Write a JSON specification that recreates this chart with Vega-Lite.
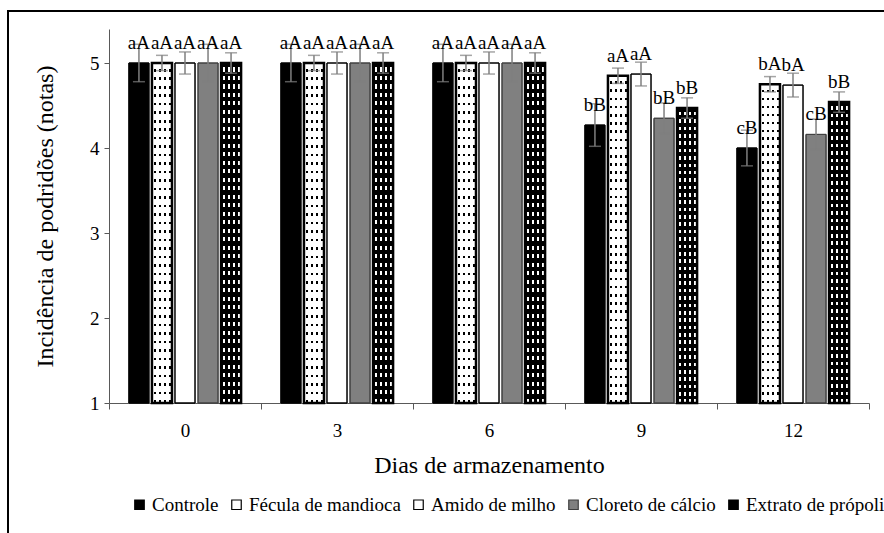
{
  "$schema": "https://vega.github.io/schema/vega-lite/v6.json",
  "width": 880,
  "height": 526,
  "autosize": "none",
  "padding": {"left": 8, "top": 11, "right": 0, "bottom": 0},
  "background": "white",
  "data": {
    "values": [
      {"dia": "0", "trat": "Controle", "media": 5, "ep": 0.22, "letra": "aA"},
      {"dia": "0", "trat": "Fécula de mandioca", "media": 5, "ep": 0.09, "letra": "aA"},
      {"dia": "0", "trat": "Amido de milho", "media": 5, "ep": 0.13, "letra": "aA"},
      {"dia": "0", "trat": "Cloreto de cálcio", "media": 5, "ep": 0.22, "letra": "aA"},
      {"dia": "0", "trat": "Extrato de própolis", "media": 5, "ep": 0.12, "letra": "aA"},
      {"dia": "3", "trat": "Controle", "media": 5, "ep": 0.22, "letra": "aA"},
      {"dia": "3", "trat": "Fécula de mandioca", "media": 5, "ep": 0.09, "letra": "aA"},
      {"dia": "3", "trat": "Amido de milho", "media": 5, "ep": 0.13, "letra": "aA"},
      {"dia": "3", "trat": "Cloreto de cálcio", "media": 5, "ep": 0.22, "letra": "aA"},
      {"dia": "3", "trat": "Extrato de própolis", "media": 5, "ep": 0.12, "letra": "aA"},
      {"dia": "6", "trat": "Controle", "media": 5, "ep": 0.22, "letra": "aA"},
      {"dia": "6", "trat": "Fécula de mandioca", "media": 5, "ep": 0.09, "letra": "aA"},
      {"dia": "6", "trat": "Amido de milho", "media": 5, "ep": 0.13, "letra": "aA"},
      {"dia": "6", "trat": "Cloreto de cálcio", "media": 5, "ep": 0.22, "letra": "aA"},
      {"dia": "6", "trat": "Extrato de própolis", "media": 5, "ep": 0.12, "letra": "aA"},
      {"dia": "9", "trat": "Controle", "media": 4.27, "ep": 0.25, "letra": "bB"},
      {"dia": "9", "trat": "Fécula de mandioca", "media": 4.85, "ep": 0.09, "letra": "aA"},
      {"dia": "9", "trat": "Amido de milho", "media": 4.87, "ep": 0.14, "letra": "aA"},
      {"dia": "9", "trat": "Cloreto de cálcio", "media": 4.35, "ep": 0.18, "letra": "bB"},
      {"dia": "9", "trat": "Extrato de própolis", "media": 4.47, "ep": 0.12, "letra": "bB"},
      {"dia": "12", "trat": "Controle", "media": 4.0, "ep": 0.21, "letra": "cB"},
      {"dia": "12", "trat": "Fécula de mandioca", "media": 4.75, "ep": 0.09, "letra": "bA"},
      {"dia": "12", "trat": "Amido de milho", "media": 4.74, "ep": 0.14, "letra": "bA"},
      {"dia": "12", "trat": "Cloreto de cálcio", "media": 4.16, "ep": 0.18, "letra": "cB"},
      {"dia": "12", "trat": "Extrato de própolis", "media": 4.54, "ep": 0.12, "letra": "bB"}
    ]
  },
  "encoding": {
    "x": {
      "field": "dia",
      "type": "nominal",
      "sort": ["0", "3", "6", "9", "12"],
      "scale": {"range": [101, 861], "paddingInner": 0, "paddingOuter": 0},
      "title": "Dias de armazenamento",
      "axis": {
        "orient": "bottom",
        "offset": -134,
        "labelAngle": 0,
        "tickBand": "extent",
        "tickSize": 6,
        "labelPadding": 12,
        "titleY": 69,
        "titleBaseline": "alphabetic",
        "labelFont": "Liberation Serif",
        "titleFont": "Liberation Serif"
      }
    },
    "xOffset": {
      "field": "trat",
      "type": "nominal",
      "sort": ["Controle", "Fécula de mandioca", "Amido de milho", "Cloreto de cálcio", "Extrato de própolis"],
      "scale": {"paddingInner": 0.13, "paddingOuter": 0.865}
    },
    "y": {
      "field": "media",
      "type": "quantitative",
      "scale": {"domain": [1, 5.4], "range": [392, 18], "nice": false, "zero": false},
      "title": "Incidência de podridões (notas)",
      "axis": {
        "values": [1, 2, 3, 4, 5],
        "orient": "left",
        "offset": -101,
        "tickSize": 5,
        "labelPadding": 5,
        "titleX": -57,
        "titleY": 205,
        "titleAngle": -90,
        "titleBaseline": "alphabetic",
        "labelFont": "Liberation Serif",
        "titleFont": "Liberation Serif"
      }
    }
  },
  "layer": [
    {
      "mark": {"type": "bar", "strokeWidth": 1},
      "encoding": {
        "y2": {"datum": 1},
        "fill": {
          "field": "trat",
          "type": "nominal",
          "sort": ["Controle", "Fécula de mandioca", "Amido de milho", "Cloreto de cálcio", "Extrato de própolis"],
          "scale": {
            "domain": ["Controle", "Fécula de mandioca", "Amido de milho", "Cloreto de cálcio", "Extrato de própolis"],
            "range": ["#000000", "#ffffff", "#ffffff", "#808080", "#000000"]
          },
          "legend": {
            "orient": "none",
            "legendX": 122,
            "legendY": 484,
            "direction": "horizontal",
            "columns": 5,
            "title": null
          }
        },
        "stroke": {
          "field": "trat",
          "type": "nominal",
          "sort": ["Controle", "Fécula de mandioca", "Amido de milho", "Cloreto de cálcio", "Extrato de própolis"],
          "scale": {
            "domain": ["Controle", "Fécula de mandioca", "Amido de milho", "Cloreto de cálcio", "Extrato de própolis"],
            "range": ["#000000", "#000000", "#000000", "#404040", "#000000"]
          },
          "legend": {
            "orient": "none",
            "legendX": 122,
            "legendY": 484,
            "direction": "horizontal",
            "columns": 5,
            "title": null
          }
        }
      }
    },
    {
      "mark": {"type": "bar", "strokeWidth": 0},
      "encoding": {
        "y2": {"datum": 1},
        "fill": {
          "condition": [
            {"test": "datum.trat === 'Fécula de mandioca'", "value": {"gradient": "linear", "x1": 0, "y1": 0, "x2": 1, "y2": 0, "stops": [
              {"offset": 0, "color": "rgba(0,0,0,0)"}, {"offset": 0.12, "color": "rgba(0,0,0,0)"}, {"offset": 0.12, "color": "rgba(0,0,0,1)"}, {"offset": 0.2, "color": "rgba(0,0,0,1)"}, {"offset": 0.2, "color": "rgba(0,0,0,0)"},
              {"offset": 0.37, "color": "rgba(0,0,0,0)"}, {"offset": 0.37, "color": "rgba(0,0,0,1)"}, {"offset": 0.45, "color": "rgba(0,0,0,1)"}, {"offset": 0.45, "color": "rgba(0,0,0,0)"},
              {"offset": 0.62, "color": "rgba(0,0,0,0)"}, {"offset": 0.62, "color": "rgba(0,0,0,1)"}, {"offset": 0.7, "color": "rgba(0,0,0,1)"}, {"offset": 0.7, "color": "rgba(0,0,0,0)"},
              {"offset": 0.87, "color": "rgba(0,0,0,0)"}, {"offset": 0.87, "color": "rgba(0,0,0,1)"}, {"offset": 0.95, "color": "rgba(0,0,0,1)"}, {"offset": 0.95, "color": "rgba(0,0,0,0)"}, {"offset": 1, "color": "rgba(0,0,0,0)"}
            ]}},
            {"test": "datum.trat === 'Extrato de própolis'", "value": {"gradient": "linear", "x1": 0, "y1": 0, "x2": 1, "y2": 0, "stops": [
              {"offset": 0, "color": "rgba(255,255,255,0)"}, {"offset": 0.1, "color": "rgba(255,255,255,0)"}, {"offset": 0.1, "color": "rgba(255,255,255,1)"}, {"offset": 0.22, "color": "rgba(255,255,255,1)"}, {"offset": 0.22, "color": "rgba(255,255,255,0)"},
              {"offset": 0.35, "color": "rgba(255,255,255,0)"}, {"offset": 0.35, "color": "rgba(255,255,255,1)"}, {"offset": 0.47, "color": "rgba(255,255,255,1)"}, {"offset": 0.47, "color": "rgba(255,255,255,0)"},
              {"offset": 0.6, "color": "rgba(255,255,255,0)"}, {"offset": 0.6, "color": "rgba(255,255,255,1)"}, {"offset": 0.72, "color": "rgba(255,255,255,1)"}, {"offset": 0.72, "color": "rgba(255,255,255,0)"},
              {"offset": 0.85, "color": "rgba(255,255,255,0)"}, {"offset": 0.85, "color": "rgba(255,255,255,1)"}, {"offset": 0.97, "color": "rgba(255,255,255,1)"}, {"offset": 0.97, "color": "rgba(255,255,255,0)"}, {"offset": 1, "color": "rgba(255,255,255,0)"}
            ]}}
          ],
          "value": "transparent"
        }
      }
    },
    {
      "mark": {"type": "bar"},
      "encoding": {
        "y2": {"datum": 1},
        "fill": {
          "condition": [
            {"test": "datum.trat === 'Fécula de mandioca'", "value": {"gradient": "linear", "x1": 0, "y1": 0, "x2": 0, "y2": 1, "stops": [
              {"offset": 0, "color": "rgba(255,255,255,1)"}, {"offset": 0.017, "color": "rgba(255,255,255,1)"}, {"offset": 0.017, "color": "rgba(255,255,255,0)"}, {"offset": 0.025, "color": "rgba(255,255,255,0)"},
              {"offset": 0.025, "color": "rgba(255,255,255,1)"}, {"offset": 0.042, "color": "rgba(255,255,255,1)"}, {"offset": 0.042, "color": "rgba(255,255,255,0)"}, {"offset": 0.05, "color": "rgba(255,255,255,0)"},
              {"offset": 0.05, "color": "rgba(255,255,255,1)"}, {"offset": 0.067, "color": "rgba(255,255,255,1)"}, {"offset": 0.067, "color": "rgba(255,255,255,0)"}, {"offset": 0.075, "color": "rgba(255,255,255,0)"},
              {"offset": 0.075, "color": "rgba(255,255,255,1)"}, {"offset": 0.092, "color": "rgba(255,255,255,1)"}, {"offset": 0.092, "color": "rgba(255,255,255,0)"}, {"offset": 0.1, "color": "rgba(255,255,255,0)"},
              {"offset": 0.1, "color": "rgba(255,255,255,1)"}, {"offset": 0.117, "color": "rgba(255,255,255,1)"}, {"offset": 0.117, "color": "rgba(255,255,255,0)"}, {"offset": 0.125, "color": "rgba(255,255,255,0)"},
              {"offset": 0.125, "color": "rgba(255,255,255,1)"}, {"offset": 0.142, "color": "rgba(255,255,255,1)"}, {"offset": 0.142, "color": "rgba(255,255,255,0)"}, {"offset": 0.15, "color": "rgba(255,255,255,0)"},
              {"offset": 0.15, "color": "rgba(255,255,255,1)"}, {"offset": 0.167, "color": "rgba(255,255,255,1)"}, {"offset": 0.167, "color": "rgba(255,255,255,0)"}, {"offset": 0.175, "color": "rgba(255,255,255,0)"},
              {"offset": 0.175, "color": "rgba(255,255,255,1)"}, {"offset": 0.192, "color": "rgba(255,255,255,1)"}, {"offset": 0.192, "color": "rgba(255,255,255,0)"}, {"offset": 0.2, "color": "rgba(255,255,255,0)"},
              {"offset": 0.2, "color": "rgba(255,255,255,1)"}, {"offset": 0.217, "color": "rgba(255,255,255,1)"}, {"offset": 0.217, "color": "rgba(255,255,255,0)"}, {"offset": 0.225, "color": "rgba(255,255,255,0)"},
              {"offset": 0.225, "color": "rgba(255,255,255,1)"}, {"offset": 0.242, "color": "rgba(255,255,255,1)"}, {"offset": 0.242, "color": "rgba(255,255,255,0)"}, {"offset": 0.25, "color": "rgba(255,255,255,0)"},
              {"offset": 0.25, "color": "rgba(255,255,255,1)"}, {"offset": 0.267, "color": "rgba(255,255,255,1)"}, {"offset": 0.267, "color": "rgba(255,255,255,0)"}, {"offset": 0.275, "color": "rgba(255,255,255,0)"},
              {"offset": 0.275, "color": "rgba(255,255,255,1)"}, {"offset": 0.292, "color": "rgba(255,255,255,1)"}, {"offset": 0.292, "color": "rgba(255,255,255,0)"}, {"offset": 0.3, "color": "rgba(255,255,255,0)"},
              {"offset": 0.3, "color": "rgba(255,255,255,1)"}, {"offset": 0.317, "color": "rgba(255,255,255,1)"}, {"offset": 0.317, "color": "rgba(255,255,255,0)"}, {"offset": 0.325, "color": "rgba(255,255,255,0)"},
              {"offset": 0.325, "color": "rgba(255,255,255,1)"}, {"offset": 0.342, "color": "rgba(255,255,255,1)"}, {"offset": 0.342, "color": "rgba(255,255,255,0)"}, {"offset": 0.35, "color": "rgba(255,255,255,0)"},
              {"offset": 0.35, "color": "rgba(255,255,255,1)"}, {"offset": 0.367, "color": "rgba(255,255,255,1)"}, {"offset": 0.367, "color": "rgba(255,255,255,0)"}, {"offset": 0.375, "color": "rgba(255,255,255,0)"},
              {"offset": 0.375, "color": "rgba(255,255,255,1)"}, {"offset": 0.392, "color": "rgba(255,255,255,1)"}, {"offset": 0.392, "color": "rgba(255,255,255,0)"}, {"offset": 0.4, "color": "rgba(255,255,255,0)"},
              {"offset": 0.4, "color": "rgba(255,255,255,1)"}, {"offset": 0.417, "color": "rgba(255,255,255,1)"}, {"offset": 0.417, "color": "rgba(255,255,255,0)"}, {"offset": 0.425, "color": "rgba(255,255,255,0)"},
              {"offset": 0.425, "color": "rgba(255,255,255,1)"}, {"offset": 0.442, "color": "rgba(255,255,255,1)"}, {"offset": 0.442, "color": "rgba(255,255,255,0)"}, {"offset": 0.45, "color": "rgba(255,255,255,0)"},
              {"offset": 0.45, "color": "rgba(255,255,255,1)"}, {"offset": 0.467, "color": "rgba(255,255,255,1)"}, {"offset": 0.467, "color": "rgba(255,255,255,0)"}, {"offset": 0.475, "color": "rgba(255,255,255,0)"},
              {"offset": 0.475, "color": "rgba(255,255,255,1)"}, {"offset": 0.492, "color": "rgba(255,255,255,1)"}, {"offset": 0.492, "color": "rgba(255,255,255,0)"}, {"offset": 0.5, "color": "rgba(255,255,255,0)"},
              {"offset": 0.5, "color": "rgba(255,255,255,1)"}, {"offset": 0.517, "color": "rgba(255,255,255,1)"}, {"offset": 0.517, "color": "rgba(255,255,255,0)"}, {"offset": 0.525, "color": "rgba(255,255,255,0)"},
              {"offset": 0.525, "color": "rgba(255,255,255,1)"}, {"offset": 0.542, "color": "rgba(255,255,255,1)"}, {"offset": 0.542, "color": "rgba(255,255,255,0)"}, {"offset": 0.55, "color": "rgba(255,255,255,0)"},
              {"offset": 0.55, "color": "rgba(255,255,255,1)"}, {"offset": 0.567, "color": "rgba(255,255,255,1)"}, {"offset": 0.567, "color": "rgba(255,255,255,0)"}, {"offset": 0.575, "color": "rgba(255,255,255,0)"},
              {"offset": 0.575, "color": "rgba(255,255,255,1)"}, {"offset": 0.592, "color": "rgba(255,255,255,1)"}, {"offset": 0.592, "color": "rgba(255,255,255,0)"}, {"offset": 0.6, "color": "rgba(255,255,255,0)"},
              {"offset": 0.6, "color": "rgba(255,255,255,1)"}, {"offset": 0.617, "color": "rgba(255,255,255,1)"}, {"offset": 0.617, "color": "rgba(255,255,255,0)"}, {"offset": 0.625, "color": "rgba(255,255,255,0)"},
              {"offset": 0.625, "color": "rgba(255,255,255,1)"}, {"offset": 0.642, "color": "rgba(255,255,255,1)"}, {"offset": 0.642, "color": "rgba(255,255,255,0)"}, {"offset": 0.65, "color": "rgba(255,255,255,0)"},
              {"offset": 0.65, "color": "rgba(255,255,255,1)"}, {"offset": 0.667, "color": "rgba(255,255,255,1)"}, {"offset": 0.667, "color": "rgba(255,255,255,0)"}, {"offset": 0.675, "color": "rgba(255,255,255,0)"},
              {"offset": 0.675, "color": "rgba(255,255,255,1)"}, {"offset": 0.692, "color": "rgba(255,255,255,1)"}, {"offset": 0.692, "color": "rgba(255,255,255,0)"}, {"offset": 0.7, "color": "rgba(255,255,255,0)"},
              {"offset": 0.7, "color": "rgba(255,255,255,1)"}, {"offset": 0.717, "color": "rgba(255,255,255,1)"}, {"offset": 0.717, "color": "rgba(255,255,255,0)"}, {"offset": 0.725, "color": "rgba(255,255,255,0)"},
              {"offset": 0.725, "color": "rgba(255,255,255,1)"}, {"offset": 0.742, "color": "rgba(255,255,255,1)"}, {"offset": 0.742, "color": "rgba(255,255,255,0)"}, {"offset": 0.75, "color": "rgba(255,255,255,0)"},
              {"offset": 0.75, "color": "rgba(255,255,255,1)"}, {"offset": 0.767, "color": "rgba(255,255,255,1)"}, {"offset": 0.767, "color": "rgba(255,255,255,0)"}, {"offset": 0.775, "color": "rgba(255,255,255,0)"},
              {"offset": 0.775, "color": "rgba(255,255,255,1)"}, {"offset": 0.792, "color": "rgba(255,255,255,1)"}, {"offset": 0.792, "color": "rgba(255,255,255,0)"}, {"offset": 0.8, "color": "rgba(255,255,255,0)"},
              {"offset": 0.8, "color": "rgba(255,255,255,1)"}, {"offset": 0.817, "color": "rgba(255,255,255,1)"}, {"offset": 0.817, "color": "rgba(255,255,255,0)"}, {"offset": 0.825, "color": "rgba(255,255,255,0)"},
              {"offset": 0.825, "color": "rgba(255,255,255,1)"}, {"offset": 0.842, "color": "rgba(255,255,255,1)"}, {"offset": 0.842, "color": "rgba(255,255,255,0)"}, {"offset": 0.85, "color": "rgba(255,255,255,0)"},
              {"offset": 0.85, "color": "rgba(255,255,255,1)"}, {"offset": 0.867, "color": "rgba(255,255,255,1)"}, {"offset": 0.867, "color": "rgba(255,255,255,0)"}, {"offset": 0.875, "color": "rgba(255,255,255,0)"},
              {"offset": 0.875, "color": "rgba(255,255,255,1)"}, {"offset": 0.892, "color": "rgba(255,255,255,1)"}, {"offset": 0.892, "color": "rgba(255,255,255,0)"}, {"offset": 0.9, "color": "rgba(255,255,255,0)"},
              {"offset": 0.9, "color": "rgba(255,255,255,1)"}, {"offset": 0.917, "color": "rgba(255,255,255,1)"}, {"offset": 0.917, "color": "rgba(255,255,255,0)"}, {"offset": 0.925, "color": "rgba(255,255,255,0)"},
              {"offset": 0.925, "color": "rgba(255,255,255,1)"}, {"offset": 0.942, "color": "rgba(255,255,255,1)"}, {"offset": 0.942, "color": "rgba(255,255,255,0)"}, {"offset": 0.95, "color": "rgba(255,255,255,0)"},
              {"offset": 0.95, "color": "rgba(255,255,255,1)"}, {"offset": 0.967, "color": "rgba(255,255,255,1)"}, {"offset": 0.967, "color": "rgba(255,255,255,0)"}, {"offset": 0.975, "color": "rgba(255,255,255,0)"},
              {"offset": 0.975, "color": "rgba(255,255,255,1)"}, {"offset": 0.992, "color": "rgba(255,255,255,1)"}, {"offset": 0.992, "color": "rgba(255,255,255,0)"}, {"offset": 1, "color": "rgba(255,255,255,0)"}
            ]}},
            {"test": "datum.trat === 'Extrato de própolis'", "value": {"gradient": "linear", "x1": 0, "y1": 0, "x2": 0, "y2": 1, "stops": [
              {"offset": 0, "color": "rgba(0,0,0,1)"}, {"offset": 0.013, "color": "rgba(0,0,0,1)"}, {"offset": 0.013, "color": "rgba(0,0,0,0)"}, {"offset": 0.025, "color": "rgba(0,0,0,0)"},
              {"offset": 0.025, "color": "rgba(0,0,0,1)"}, {"offset": 0.038, "color": "rgba(0,0,0,1)"}, {"offset": 0.038, "color": "rgba(0,0,0,0)"}, {"offset": 0.05, "color": "rgba(0,0,0,0)"},
              {"offset": 0.05, "color": "rgba(0,0,0,1)"}, {"offset": 0.063, "color": "rgba(0,0,0,1)"}, {"offset": 0.063, "color": "rgba(0,0,0,0)"}, {"offset": 0.075, "color": "rgba(0,0,0,0)"},
              {"offset": 0.075, "color": "rgba(0,0,0,1)"}, {"offset": 0.088, "color": "rgba(0,0,0,1)"}, {"offset": 0.088, "color": "rgba(0,0,0,0)"}, {"offset": 0.1, "color": "rgba(0,0,0,0)"},
              {"offset": 0.1, "color": "rgba(0,0,0,1)"}, {"offset": 0.113, "color": "rgba(0,0,0,1)"}, {"offset": 0.113, "color": "rgba(0,0,0,0)"}, {"offset": 0.125, "color": "rgba(0,0,0,0)"},
              {"offset": 0.125, "color": "rgba(0,0,0,1)"}, {"offset": 0.138, "color": "rgba(0,0,0,1)"}, {"offset": 0.138, "color": "rgba(0,0,0,0)"}, {"offset": 0.15, "color": "rgba(0,0,0,0)"},
              {"offset": 0.15, "color": "rgba(0,0,0,1)"}, {"offset": 0.163, "color": "rgba(0,0,0,1)"}, {"offset": 0.163, "color": "rgba(0,0,0,0)"}, {"offset": 0.175, "color": "rgba(0,0,0,0)"},
              {"offset": 0.175, "color": "rgba(0,0,0,1)"}, {"offset": 0.188, "color": "rgba(0,0,0,1)"}, {"offset": 0.188, "color": "rgba(0,0,0,0)"}, {"offset": 0.2, "color": "rgba(0,0,0,0)"},
              {"offset": 0.2, "color": "rgba(0,0,0,1)"}, {"offset": 0.213, "color": "rgba(0,0,0,1)"}, {"offset": 0.213, "color": "rgba(0,0,0,0)"}, {"offset": 0.225, "color": "rgba(0,0,0,0)"},
              {"offset": 0.225, "color": "rgba(0,0,0,1)"}, {"offset": 0.238, "color": "rgba(0,0,0,1)"}, {"offset": 0.238, "color": "rgba(0,0,0,0)"}, {"offset": 0.25, "color": "rgba(0,0,0,0)"},
              {"offset": 0.25, "color": "rgba(0,0,0,1)"}, {"offset": 0.263, "color": "rgba(0,0,0,1)"}, {"offset": 0.263, "color": "rgba(0,0,0,0)"}, {"offset": 0.275, "color": "rgba(0,0,0,0)"},
              {"offset": 0.275, "color": "rgba(0,0,0,1)"}, {"offset": 0.288, "color": "rgba(0,0,0,1)"}, {"offset": 0.288, "color": "rgba(0,0,0,0)"}, {"offset": 0.3, "color": "rgba(0,0,0,0)"},
              {"offset": 0.3, "color": "rgba(0,0,0,1)"}, {"offset": 0.313, "color": "rgba(0,0,0,1)"}, {"offset": 0.313, "color": "rgba(0,0,0,0)"}, {"offset": 0.325, "color": "rgba(0,0,0,0)"},
              {"offset": 0.325, "color": "rgba(0,0,0,1)"}, {"offset": 0.338, "color": "rgba(0,0,0,1)"}, {"offset": 0.338, "color": "rgba(0,0,0,0)"}, {"offset": 0.35, "color": "rgba(0,0,0,0)"},
              {"offset": 0.35, "color": "rgba(0,0,0,1)"}, {"offset": 0.363, "color": "rgba(0,0,0,1)"}, {"offset": 0.363, "color": "rgba(0,0,0,0)"}, {"offset": 0.375, "color": "rgba(0,0,0,0)"},
              {"offset": 0.375, "color": "rgba(0,0,0,1)"}, {"offset": 0.388, "color": "rgba(0,0,0,1)"}, {"offset": 0.388, "color": "rgba(0,0,0,0)"}, {"offset": 0.4, "color": "rgba(0,0,0,0)"},
              {"offset": 0.4, "color": "rgba(0,0,0,1)"}, {"offset": 0.413, "color": "rgba(0,0,0,1)"}, {"offset": 0.413, "color": "rgba(0,0,0,0)"}, {"offset": 0.425, "color": "rgba(0,0,0,0)"},
              {"offset": 0.425, "color": "rgba(0,0,0,1)"}, {"offset": 0.438, "color": "rgba(0,0,0,1)"}, {"offset": 0.438, "color": "rgba(0,0,0,0)"}, {"offset": 0.45, "color": "rgba(0,0,0,0)"},
              {"offset": 0.45, "color": "rgba(0,0,0,1)"}, {"offset": 0.463, "color": "rgba(0,0,0,1)"}, {"offset": 0.463, "color": "rgba(0,0,0,0)"}, {"offset": 0.475, "color": "rgba(0,0,0,0)"},
              {"offset": 0.475, "color": "rgba(0,0,0,1)"}, {"offset": 0.488, "color": "rgba(0,0,0,1)"}, {"offset": 0.488, "color": "rgba(0,0,0,0)"}, {"offset": 0.5, "color": "rgba(0,0,0,0)"},
              {"offset": 0.5, "color": "rgba(0,0,0,1)"}, {"offset": 0.513, "color": "rgba(0,0,0,1)"}, {"offset": 0.513, "color": "rgba(0,0,0,0)"}, {"offset": 0.525, "color": "rgba(0,0,0,0)"},
              {"offset": 0.525, "color": "rgba(0,0,0,1)"}, {"offset": 0.538, "color": "rgba(0,0,0,1)"}, {"offset": 0.538, "color": "rgba(0,0,0,0)"}, {"offset": 0.55, "color": "rgba(0,0,0,0)"},
              {"offset": 0.55, "color": "rgba(0,0,0,1)"}, {"offset": 0.563, "color": "rgba(0,0,0,1)"}, {"offset": 0.563, "color": "rgba(0,0,0,0)"}, {"offset": 0.575, "color": "rgba(0,0,0,0)"},
              {"offset": 0.575, "color": "rgba(0,0,0,1)"}, {"offset": 0.588, "color": "rgba(0,0,0,1)"}, {"offset": 0.588, "color": "rgba(0,0,0,0)"}, {"offset": 0.6, "color": "rgba(0,0,0,0)"},
              {"offset": 0.6, "color": "rgba(0,0,0,1)"}, {"offset": 0.613, "color": "rgba(0,0,0,1)"}, {"offset": 0.613, "color": "rgba(0,0,0,0)"}, {"offset": 0.625, "color": "rgba(0,0,0,0)"},
              {"offset": 0.625, "color": "rgba(0,0,0,1)"}, {"offset": 0.638, "color": "rgba(0,0,0,1)"}, {"offset": 0.638, "color": "rgba(0,0,0,0)"}, {"offset": 0.65, "color": "rgba(0,0,0,0)"},
              {"offset": 0.65, "color": "rgba(0,0,0,1)"}, {"offset": 0.663, "color": "rgba(0,0,0,1)"}, {"offset": 0.663, "color": "rgba(0,0,0,0)"}, {"offset": 0.675, "color": "rgba(0,0,0,0)"},
              {"offset": 0.675, "color": "rgba(0,0,0,1)"}, {"offset": 0.688, "color": "rgba(0,0,0,1)"}, {"offset": 0.688, "color": "rgba(0,0,0,0)"}, {"offset": 0.7, "color": "rgba(0,0,0,0)"},
              {"offset": 0.7, "color": "rgba(0,0,0,1)"}, {"offset": 0.713, "color": "rgba(0,0,0,1)"}, {"offset": 0.713, "color": "rgba(0,0,0,0)"}, {"offset": 0.725, "color": "rgba(0,0,0,0)"},
              {"offset": 0.725, "color": "rgba(0,0,0,1)"}, {"offset": 0.738, "color": "rgba(0,0,0,1)"}, {"offset": 0.738, "color": "rgba(0,0,0,0)"}, {"offset": 0.75, "color": "rgba(0,0,0,0)"},
              {"offset": 0.75, "color": "rgba(0,0,0,1)"}, {"offset": 0.763, "color": "rgba(0,0,0,1)"}, {"offset": 0.763, "color": "rgba(0,0,0,0)"}, {"offset": 0.775, "color": "rgba(0,0,0,0)"},
              {"offset": 0.775, "color": "rgba(0,0,0,1)"}, {"offset": 0.788, "color": "rgba(0,0,0,1)"}, {"offset": 0.788, "color": "rgba(0,0,0,0)"}, {"offset": 0.8, "color": "rgba(0,0,0,0)"},
              {"offset": 0.8, "color": "rgba(0,0,0,1)"}, {"offset": 0.813, "color": "rgba(0,0,0,1)"}, {"offset": 0.813, "color": "rgba(0,0,0,0)"}, {"offset": 0.825, "color": "rgba(0,0,0,0)"},
              {"offset": 0.825, "color": "rgba(0,0,0,1)"}, {"offset": 0.838, "color": "rgba(0,0,0,1)"}, {"offset": 0.838, "color": "rgba(0,0,0,0)"}, {"offset": 0.85, "color": "rgba(0,0,0,0)"},
              {"offset": 0.85, "color": "rgba(0,0,0,1)"}, {"offset": 0.863, "color": "rgba(0,0,0,1)"}, {"offset": 0.863, "color": "rgba(0,0,0,0)"}, {"offset": 0.875, "color": "rgba(0,0,0,0)"},
              {"offset": 0.875, "color": "rgba(0,0,0,1)"}, {"offset": 0.888, "color": "rgba(0,0,0,1)"}, {"offset": 0.888, "color": "rgba(0,0,0,0)"}, {"offset": 0.9, "color": "rgba(0,0,0,0)"},
              {"offset": 0.9, "color": "rgba(0,0,0,1)"}, {"offset": 0.913, "color": "rgba(0,0,0,1)"}, {"offset": 0.913, "color": "rgba(0,0,0,0)"}, {"offset": 0.925, "color": "rgba(0,0,0,0)"},
              {"offset": 0.925, "color": "rgba(0,0,0,1)"}, {"offset": 0.938, "color": "rgba(0,0,0,1)"}, {"offset": 0.938, "color": "rgba(0,0,0,0)"}, {"offset": 0.95, "color": "rgba(0,0,0,0)"},
              {"offset": 0.95, "color": "rgba(0,0,0,1)"}, {"offset": 0.963, "color": "rgba(0,0,0,1)"}, {"offset": 0.963, "color": "rgba(0,0,0,0)"}, {"offset": 0.975, "color": "rgba(0,0,0,0)"},
              {"offset": 0.975, "color": "rgba(0,0,0,1)"}, {"offset": 0.988, "color": "rgba(0,0,0,1)"}, {"offset": 0.988, "color": "rgba(0,0,0,0)"}, {"offset": 1, "color": "rgba(0,0,0,0)"}
            ]}}
          ],
          "value": "transparent"
        },
        "stroke": {
          "condition": {"test": "datum.trat === 'Cloreto de cálcio'", "value": "#404040"},
          "value": "#000000"
        },
        "strokeWidth": {
          "condition": {"test": "datum.trat === 'Fécula de mandioca' || datum.trat === 'Extrato de própolis'", "value": 2.5},
          "value": 1
        }
      }
    },
    {
      "mark": {"type": "errorbar", "ticks": true, "size": 12, "thickness": 1.5, "color": "#7f7f7f"},
      "encoding": {
        "yError": {"field": "ep"}
      }
    },
    {
      "mark": {"type": "text", "dy": -20, "baseline": "middle", "fontSize": 19, "font": "Liberation Serif", "color": "#000000"},
      "encoding": {
        "text": {"field": "letra"}
      }
    }
  ],
  "config": {
    "font": "Liberation Serif",
    "view": {"stroke": "#000000", "strokeWidth": 2},
    "style": {
      "guide-label": {"font": "Liberation Serif", "fill": "#000000"},
      "guide-title": {"font": "Liberation Serif", "fill": "#000000"}
    },
    "axis": {
      "grid": false,
      "labelFont": "Liberation Serif",
      "titleFont": "Liberation Serif",
      "labelFontSize": 19,
      "titleFontSize": 24,
      "titleFontWeight": "normal",
      "labelColor": "#000000",
      "titleColor": "#000000",
      "domainColor": "#595959",
      "tickColor": "#595959",
      "domainWidth": 1,
      "tickWidth": 1
    },
    "legend": {
      "symbolType": "square",
      "symbolSize": 90,
      "symbolStrokeWidth": 1.2,
      "labelFontSize": 19,
      "labelFont": "Liberation Serif",
      "labelColor": "#000000",
      "labelOffset": 3,
      "columnPadding": 8
    }
  }
}
